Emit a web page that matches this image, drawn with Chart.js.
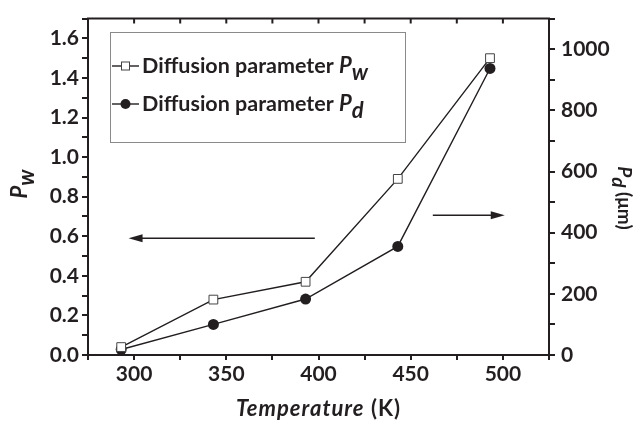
<!DOCTYPE html>
<html>
<head>
<meta charset="utf-8">
<script src="https://cdn.jsdelivr.net/npm/chart.js@4"></script>
<style>
  html, body { margin: 0; padding: 0; background: #fff; }
  #wrap { width: 636px; height: 422px; }
</style>
</head>
<body>
<div id="wrap"><canvas id="diffChart" width="636" height="422"></canvas></div>
<script>
// datos
const temps = [293, 343, 393, 443, 493];
const pwValues = [0.04, 0.28, 0.37, 0.89, 1.50];
const pdValues = [18, 100, 183, 355, 937];
const legendLabels = ['Diffusion parameter ', 'Diffusion parameter '];
const legendSubs = ['w', 'd'];

// flechas (en coordenadas de datos): [x inicio, x fin, y, eje]
const arrowLeft = [398, 297, 0.59, 'y'];
const arrowRight = [462, 501, 457, 'y1'];

const ink = '#231f20';
const FONT = 'Lato, "Open Sans", sans-serif';

function toPoints(xs, ys) {
    return xs.map((x, i) => ({ x: x, y: ys[i] }));
}

// texto con subindice: P + sub + resto
function drawSubText(ctx, x, y, main, sub, rest, size) {
    ctx.font = 'italic bold ' + size + 'px ' + FONT;
    ctx.fillText(main, x, y);
    let w = ctx.measureText(main).width;
    ctx.fillText(sub, x + w, y + size * 0.3);
    w += ctx.measureText(sub).width;
    if (rest) {
        ctx.font = 'bold ' + size + 'px ' + FONT;
        ctx.fillText(rest, x + w, y);
        w += ctx.measureText(rest).width;
    }
    return w;
}

function subTextWidth(ctx, main, sub, rest, size) {
    ctx.font = 'italic bold ' + size + 'px ' + FONT;
    let w = ctx.measureText(main).width + ctx.measureText(sub).width;
    if (rest) {
        ctx.font = 'bold ' + size + 'px ' + FONT;
        w += ctx.measureText(rest).width;
    }
    return w;
}

const decorPlugin = {
    id: 'decor',
    afterDraw(chart) {
        const ctx = chart.ctx;
        const area = chart.chartArea;
        const xs = chart.scales.x;
        ctx.save();
        ctx.strokeStyle = ink;
        ctx.fillStyle = ink;

        // borde superior con marcas hacia dentro
        ctx.lineWidth = 2;
        ctx.beginPath();
        ctx.moveTo(area.left - 1, area.top);
        ctx.lineTo(area.right + 1, area.top);
        xs.ticks.forEach(t => {
            const px = xs.getPixelForValue(t.value);
            if (px > area.left + 2 && px < area.right - 2) {
                ctx.moveTo(px, area.top);
                ctx.lineTo(px, area.top + 5);
            }
        });
        ctx.stroke();

        // flechas
        [arrowLeft, arrowRight].forEach(a => {
            const ys = chart.scales[a[3]];
            const x0 = xs.getPixelForValue(a[0]);
            const x1 = xs.getPixelForValue(a[1]);
            const py = ys.getPixelForValue(a[2]);
            const dir = x1 > x0 ? 1 : -1;
            ctx.lineWidth = 1.4;
            ctx.beginPath();
            ctx.moveTo(x0, py);
            ctx.lineTo(x1 - dir * 10, py);
            ctx.stroke();
            ctx.beginPath();
            ctx.moveTo(x1, py);
            ctx.lineTo(x1 - dir * 14, py - 4);
            ctx.lineTo(x1 - dir * 14, py + 4);
            ctx.closePath();
            ctx.fill();
        });

        // leyenda
        const box = { left: 110, top: 32, right: 405, bottom: 142 };
        ctx.lineWidth = 1;
        ctx.strokeStyle = '#8a8a8a';
        ctx.strokeRect(box.left + 0.5, box.top + 0.5, box.right - box.left, box.bottom - box.top);
        const rowsY = [66, 104];
        chart.data.datasets.forEach((ds, i) => {
            const cy = rowsY[i];
            ctx.strokeStyle = ink;
            ctx.lineWidth = 1.4;
            ctx.beginPath();
            ctx.moveTo(112, cy);
            ctx.lineTo(139, cy);
            ctx.stroke();
            if (i === 0) {
                ctx.fillStyle = '#fff';
                ctx.fillRect(121.5, cy - 4, 8, 8);
                ctx.strokeStyle = '#444';
                ctx.lineWidth = 1;
                ctx.strokeRect(121.5, cy - 4, 8, 8);
            } else {
                ctx.fillStyle = ink;
                ctx.beginPath();
                ctx.arc(125.5, cy, 5, 0, Math.PI * 2);
                ctx.fill();
            }
            ctx.fillStyle = ink;
            ctx.textBaseline = 'alphabetic';
            ctx.textAlign = 'left';
            ctx.font = 'bold 21.5px ' + FONT;
            ctx.fillText(legendLabels[i], 142, cy + 7);
            const w = ctx.measureText(legendLabels[i]).width;
            drawSubText(ctx, 142 + w, cy + 7, 'P', legendSubs[i], '', 22);
        });

        // titulos de ejes
        ctx.fillStyle = ink;
        ctx.textBaseline = 'alphabetic';
        ctx.textAlign = 'left';
        // eje x
        ctx.letterSpacing = '1px';
        ctx.font = 'italic bold 22px ' + FONT;
        const t1 = 'Temperature';
        const t2 = ' (K)';
        const w1 = ctx.measureText(t1).width;
        ctx.font = 'bold 22px ' + FONT;
        const w2 = ctx.measureText(t2).width;
        const cx = (area.left + area.right) / 2;
        let sx = cx - (w1 + w2) / 2;
        ctx.font = 'italic bold 22px ' + FONT;
        ctx.fillText(t1, sx, 416);
        ctx.font = 'bold 22px ' + FONT;
        ctx.fillText(t2, sx + w1, 416);
        ctx.letterSpacing = '0px';

        // eje y izquierdo
        ctx.save();
        ctx.translate(27, 184);
        ctx.rotate(-Math.PI / 2);
        const wl = subTextWidth(ctx, 'P', 'w', '', 22);
        drawSubText(ctx, -wl / 2, 0, 'P', 'w', '', 22);
        ctx.restore();

        // eje y derecho
        ctx.save();
        ctx.translate(618, 198);
        ctx.rotate(Math.PI / 2);
        const wr = subTextWidth(ctx, 'P', 'd', ' (\u03bcm)', 19);
        drawSubText(ctx, -wr / 2, 0, 'P', 'd', ' (\u03bcm)', 19);
        ctx.restore();

        ctx.restore();
    }
};

const ctxDiff = document.getElementById('diffChart').getContext('2d');
const diffChart = new Chart(ctxDiff, {
    type: 'line',
    data: {
        datasets: [
            {
                label: 'Diffusion parameter Pw',
                data: toPoints(temps, pwValues),
                yAxisID: 'y',
                borderColor: ink,
                borderWidth: 1.4,
                pointStyle: 'rect',
                pointRadius: 6.2,
                pointBackgroundColor: '#fff',
                pointBorderColor: '#444',
                pointBorderWidth: 1,
                fill: false,
                tension: 0
            },
            {
                label: 'Diffusion parameter Pd',
                data: toPoints(temps, pdValues),
                yAxisID: 'y1',
                borderColor: ink,
                borderWidth: 1.4,
                pointStyle: 'circle',
                pointRadius: 5.5,
                pointBackgroundColor: ink,
                pointBorderColor: ink,
                pointBorderWidth: 0,
                fill: false,
                tension: 0
            }
        ]
    },
    options: {
        responsive: false,
        animation: false,
        layout: { padding: { top: 13, left: 0, right: 0, bottom: 0 } },
        plugins: {
            legend: { display: false },
            tooltip: { enabled: false }
        },
        scales: {
            x: {
                type: 'linear',
                position: 'bottom',
                min: 275,
                max: 525,
                afterFit(scale) { scale.height = 67; },
                border: { display: true, color: ink, width: 2 },
                grid: { drawOnChartArea: false, drawTicks: true, tickLength: 5, color: ink, lineWidth: 2 },
                ticks: {
                    stepSize: 25,
                    padding: 2,
                    color: ink,
                    font: { family: FONT, size: 21, weight: 'bold' },
                    maxRotation: 0,
                    autoSkip: false,
                    callback: v => (v % 50 === 0 ? v : '')
                }
            },
            y: {
                type: 'linear',
                position: 'left',
                min: 0,
                max: 1.7,
                afterFit(scale) { scale.width = 88; },
                border: { display: true, color: ink, width: 2 },
                grid: { drawOnChartArea: false, drawTicks: true, tickLength: 6, color: ink, lineWidth: 2 },
                ticks: {
                    stepSize: 0.1,
                    padding: 3,
                    color: ink,
                    font: { family: FONT, size: 21, weight: 'bold' },
                    autoSkip: false,
                    callback: v => (Math.round(v * 10) % 2 === 0 ? v.toFixed(1) : '')
                }
            },
            y1: {
                type: 'linear',
                position: 'right',
                min: 0,
                max: 1100,
                afterFit(scale) { scale.width = 87; },
                border: { display: true, color: ink, width: 2 },
                grid: { drawOnChartArea: false, drawTicks: true, tickLength: 6, color: ink, lineWidth: 2 },
                ticks: {
                    stepSize: 100,
                    padding: 6,
                    color: ink,
                    font: { family: FONT, size: 21, weight: 'bold' },
                    autoSkip: false,
                    callback: v => (v % 200 === 0 ? v : '')
                }
            }
        }
    },
    plugins: [decorPlugin]
});
</script>
</body>
</html>
